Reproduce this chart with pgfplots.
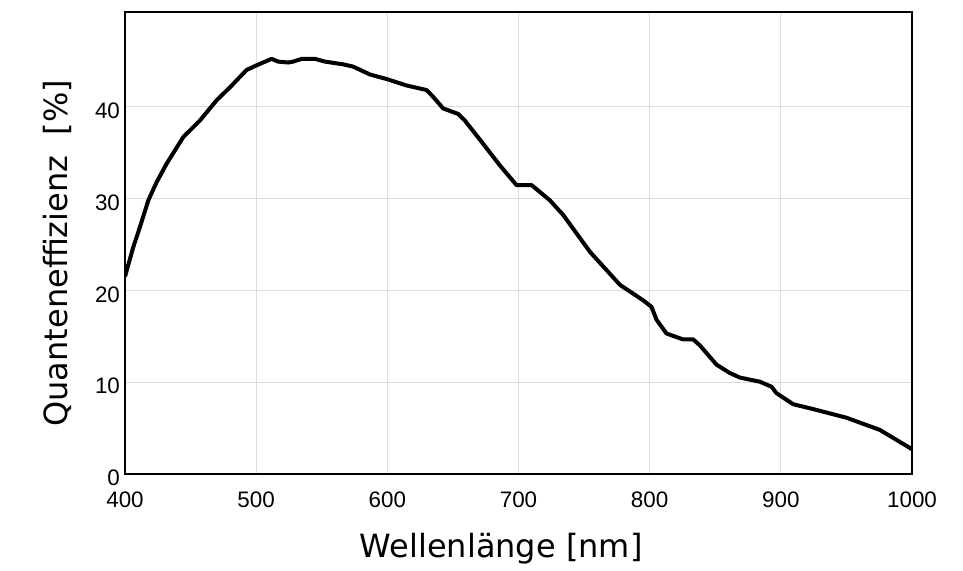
\documentclass[border=0pt]{standalone}
\usepackage{fontspec}
\setmainfont{DejaVu Sans}
\newfontfamily\tickfont{Liberation Sans}
\usepackage{pgfplots}
\pgfplotsset{compat=1.18}
\usetikzlibrary{calc}
\definecolor{Grid}{HTML}{DCDCDC}

\begin{document}
\begin{tikzpicture}
\begin{axis}[
  scale only axis,
  width=393.5pt,
  height=231pt,
  xmin=400, xmax=1000,
  ymin=0, ymax=50.3,
  xtick={400,500,...,1000},
  ytick={0,10,20,30,40},
  grid=major,
  grid style={Grid,line width=0.6pt},
  axis line style={black,line width=1pt},
  major tick length=0pt,
  /pgf/number format/assume math mode=true,
  /pgf/number format/1000 sep={},
  tick label style={font=\tickfont\fontsize{11.2}{13}\selectfont},
  xticklabel style={yshift=-5.5pt},
  yticklabel style={xshift=1pt,yshift=-2pt},
  xlabel={Wellenlänge [nm]},
  ylabel={Quanteneffizienz~~[\%]},
  label style={font=\fontsize{16}{19}\selectfont},
  xlabel style={at={(axis description cs:0.478,-0.1797)},anchor=base},
  ylabel style={at={(axis description cs:-0.073,0.478)},anchor=base},
]
\addplot[black,line width=2pt,line join=round] coordinates {
(400,21.5) (406.3,24.7) (411.4,26.9) (417.8,29.8) (424.2,31.8) (431.8,33.8)
(444.5,36.7) (457.2,38.5) (469.9,40.7) (480,42.1) (492.8,44.0) (500.4,44.5)
(511.8,45.2) (516.8,44.9) (524.5,44.8) (528.3,44.9) (534.7,45.2) (544.8,45.2)
(552.4,44.9) (566.4,44.6) (574,44.35) (586.7,43.5) (599.5,43.0) (614.7,42.3)
(630,41.8) (635,41.05) (642.6,39.8) (654,39.2) (659,38.5) (670.6,36.4)
(685.8,33.6) (698.5,31.45) (710,31.45) (723.9,29.8) (734.1,28.2) (754.4,24.2)
(777.3,20.6) (795.1,18.9) (801.4,18.2) (805.2,16.8) (812.8,15.3) (825.5,14.65)
(833.2,14.65) (838.3,14.0) (851,11.9) (861.1,11.0) (868.8,10.5) (884,10.05)
(892.9,9.5) (896.7,8.8) (909.4,7.6) (924.6,7.07) (950,6.13) (975.5,4.8)
(1000,2.7)
};
\end{axis}
\path[use as bounding box] ($(current axis.south west)+(-62.5pt,-45.5pt)$) rectangle ($(current axis.north east)+(25.5pt,6pt)$);
\end{tikzpicture}
\end{document}
